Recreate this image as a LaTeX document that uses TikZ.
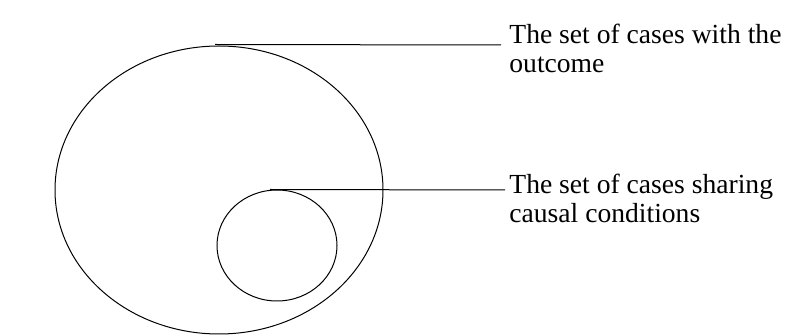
\documentclass[tikz,border=0pt]{standalone}
\usepackage{fontspec}
\setmainfont{Liberation Serif}
\usetikzlibrary{shapes.geometric,calc}
\tikzset{set/.style={draw, ellipse, inner sep=0pt, line width=0.5pt},
  lbl/.style={anchor=base west, align=left, inner sep=0pt, font=\fontsize{13.8}{14.5}\selectfont}}
\begin{document}
\begin{tikzpicture}[x=0.5pt, y=-0.5pt]
\useasboundingbox (0,0) rectangle (789,336);
\node[set, minimum width=164pt, minimum height=144pt] (outcome) at (219,190) {};
\node[set, minimum width=60pt, minimum height=55.5pt] (causal) at (277,245.5) {};
\node[lbl] (outlbl) at (509,73) {The set of cases with the\\outcome};
\node[lbl] (causlbl) at (509,223) {The set of cases sharing\\causal conditions};
\draw[line width=0.5pt] ($(outcome.north)+(-4,-1)$) -- ([xshift=-4pt, yshift=14pt]outlbl.base west);
\draw[line width=0.5pt] ($(causal.north)+(-7,0)$) -- ([xshift=-2pt, yshift=16.5pt]causlbl.base west);
\end{tikzpicture}
\end{document}
